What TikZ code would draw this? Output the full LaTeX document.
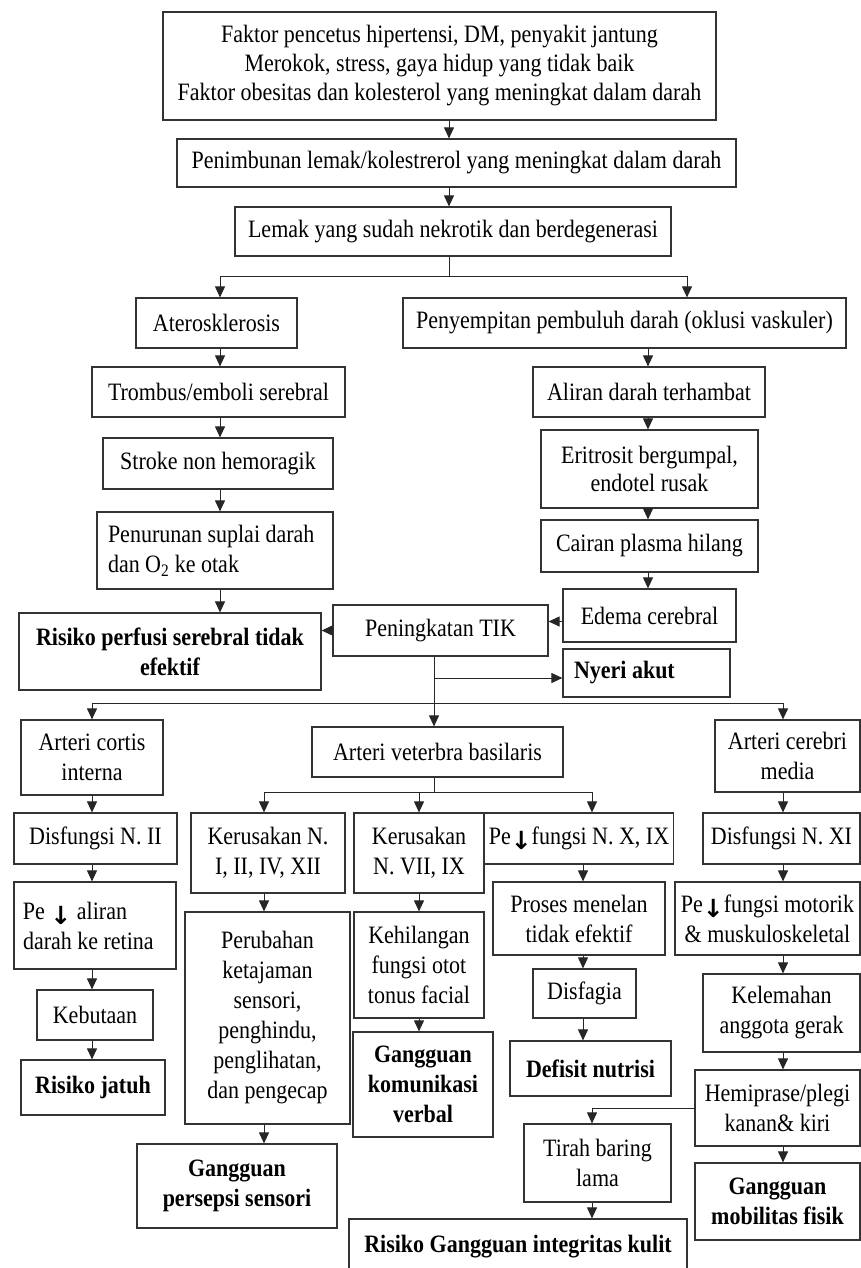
\documentclass[tikz,border=0pt]{standalone}
\usepackage{fontspec}
\setmainfont{Liberation Serif}[FakeStretch=0.88]
\newfontfamily\arrowfont{DejaVu Sans}
\usetikzlibrary{arrows.meta}
\newcommand{\pdown}{\raisebox{-0.2em}{\arrowfont\bfseries ↓}}

\begin{document}
\begin{tikzpicture}[x=1pt, y=-1pt,
    font=\fontsize{25}{30}\selectfont,
    box/.style={draw=black!80, line width=1.2pt, align=center, inner sep=4pt},
    bbox/.style={box, font=\fontsize{25}{30}\selectfont\bfseries},
    arr/.style={draw=black!85, line width=1pt, -{Triangle[length=11pt,width=10pt]}},
    ln/.style={draw=black!85, line width=1pt}]
            \useasboundingbox (0,0) rectangle (861,1268);

            \node[box, minimum width=553, minimum height=108, font=\fontsize{25}{29}\selectfont] (faktor) at (439.5,66) {Faktor pencetus hipertensi, DM, penyakit jantung\\Merokok, stress, gaya hidup yang tidak baik\\Faktor obesitas dan kolesterol yang meningkat dalam darah};
            \node[box, minimum width=559, minimum height=48] (timbun) at (456.5,163) {Penimbunan lemak/kolestrerol yang meningkat dalam darah};
            \node[box, minimum width=436, minimum height=49] (lemak) at (453,231.5) {Lemak yang sudah nekrotik dan berdegenerasi};

            \node[box, minimum width=161, minimum height=50] (ateros) at (216.5,323) {Aterosklerosis};
            \node[box, minimum width=443, minimum height=50] (sempit) at (624.5,323) {Penyempitan pembuluh darah (oklusi vaskuler)};
            \node[box, minimum width=253, minimum height=50] (trombus) at (218.5,392) {Trombus/emboli serebral};
            \node[box, minimum width=232, minimum height=50] (aliran) at (649,392) {Aliran darah terhambat};
            \node[box, minimum width=230, minimum height=51] (stroke) at (218,463.5) {Stroke non hemoragik};
            \node[box, minimum width=217, minimum height=78, font=\fontsize{25}{28}\selectfont] (eritro) at (649.5,469) {Eritrosit bergumpal,\\endotel rusak};
            \node[box, minimum width=236, minimum height=77, align=flush left, text width=214, inner xsep=11] (turun) at (215,550.5) {Penurunan suplai darah\\dan O\textsubscript{2} ke otak};
            \node[box, minimum width=217, minimum height=52] (cairan) at (649.5,546) {Cairan plasma hilang};
            \node[box, minimum width=173, minimum height=53] (edema) at (649.5,615.5) {Edema cerebral};
            \node[box, minimum width=215, minimum height=51] (tik) at (440.5,630.5) {Peningkatan TIK};
            \node[bbox, minimum width=302, minimum height=77] (perfusi) at (170,651.5) {Risiko perfusi serebral tidak\\efektif};
            \node[bbox, minimum width=167, minimum height=48, align=flush left, text width=145, inner xsep=11] (nyeri) at (646.5,673) {Nyeri akut};

            \node[box, minimum width=142, minimum height=75] (cortis) at (92,757.5) {Arteri cortis\\interna};
            \node[box, minimum width=251, minimum height=50] (vert) at (437.5,752) {Arteri veterbra basilaris};
            \node[box, minimum width=145, minimum height=72] (cerebri) at (787.5,756) {Arteri cerebri\\media};

            \node[box, minimum width=163, minimum height=51] (dis2) at (95.5,838.5) {Disfungsi N. II};
            \node[box, minimum width=154, minimum height=80] (rusak1) at (268,853) {Kerusakan N.\\I, II, IV, XII};
            \node[box, minimum width=130, minimum height=80] (rusak7) at (419,853) {Kerusakan\\N. VII, IX};
            \node[box, minimum width=172, minimum height=51] (fungsiX) at (579,838.5) {Pe\pdown fungsi N. X, IX};
            \node[box, minimum width=157, minimum height=51] (dis11) at (781.5,838.5) {Disfungsi N. XI};

            \node[box, minimum width=162, minimum height=87, align=flush left, text width=144, inner xsep=9] (aliranret) at (95,925.5) {Pe \pdown{} aliran\\darah ke retina};
            \node[box, minimum width=165, minimum height=212] (perubahan) at (267.5,1018) {Perubahan\\ketajaman\\sensori,\\penghindu,\\penglihatan,\\dan pengecap};
            \node[box, minimum width=130, minimum height=106] (hilang) at (419,965) {Kehilangan\\fungsi otot\\tonus facial};
            \node[box, minimum width=172, minimum height=73] (menelan) at (579,918.5) {Proses menelan\\tidak efektif};
            \node[box, minimum width=185, minimum height=73] (motorik) at (767.5,918.5) {Pe\pdown fungsi motorik\\\& muskuloskeletal};

            \node[box, minimum width=116, minimum height=50] (buta) at (95,1015) {Kebutaan};
            \node[box, minimum width=103, minimum height=49] (disfagia) at (584.5,993.5) {Disfagia};
            \node[box, minimum width=157, minimum height=78] (lemah) at (781.5,1013) {Kelemahan\\anggota gerak};

            \node[bbox, minimum width=144, minimum height=55] (jatuh) at (93,1087.5) {Risiko jatuh};
            \node[bbox, minimum width=140, minimum height=105] (komunikasi) at (423,1084.5) {Gangguan\\komunikasi\\verbal};
            \node[bbox, minimum width=161, minimum height=55] (nutrisi) at (590.5,1068.5) {Defisit nutrisi};
            \node[box, minimum width=165, minimum height=76] (hemi) at (777.5,1108) {Hemiprase/plegi\\kanan\& kiri};
            \node[box, minimum width=147, minimum height=78] (tirah) at (597.5,1163) {Tirah baring\\lama};
            \node[bbox, minimum width=165, minimum height=77] (mobilitas) at (777.5,1201.5) {Gangguan\\mobilitas fisik};
            \node[bbox, minimum width=200, minimum height=84] (persepsi) at (237,1186) {Gangguan\\persepsi sensori};
            \node[bbox, minimum width=338, minimum height=56] (kulit) at (518,1247) {Risiko Gangguan integritas kulit};

            \coordinate (cM) at (449,0);
            \coordinate (cL) at (220,0);
            \coordinate (cS) at (687,0);
            \coordinate (cR) at (648,0);
            \coordinate (cC) at (92,0);
            \coordinate (cE) at (783,0);
            \coordinate (cK) at (264,0);
            \coordinate (cV) at (419,0);
            \coordinate (cN) at (583,0);
            \coordinate (cB) at (592,0);
            \coordinate (split1) at (449,276);
            \coordinate (split2) at (434,703);
            \coordinate (split3) at (434,792);

            \draw[arr] (faktor.south -| cM) -- (timbun.north -| cM);
            \draw[arr] (timbun.south -| cM) -- (lemak.north -| cM);
            \draw[ln] (lemak.south -| split1) -- (split1);
            \draw[arr] (split1) -| (ateros.north -| cL);
            \draw[arr] (split1) -| (sempit.north -| cS);

            \draw[arr] (ateros.south -| cL) -- (trombus.north -| cL);
            \draw[arr] (trombus.south -| cL) -- (stroke.north -| cL);
            \draw[arr] (stroke.south -| cL) -- (turun.north -| cL);
            \draw[arr] (turun.south -| cL) -- (perfusi.north -| cL);

            \draw[arr] (sempit.south -| cR) -- (aliran.north -| cR);
            \draw[arr] (aliran.south -| cR) -- (eritro.north -| cR);
            \draw[arr] (eritro.south -| cR) -- (cairan.north -| cR);
            \draw[arr] (cairan.south -| cR) -- (edema.north -| cR);
            \draw[arr] ([yshift=-6]edema.west) -- ([yshift=-6]edema.west -| tik.east);
            \draw[arr] (tik.west) -- (tik.west -| perfusi.east);

            \draw[ln] (tik.south -| split2) -- (split2);
            \draw[arr] ([yshift=-5]nyeri.west -| split2) -- ([yshift=-5]nyeri.west);
            \draw[arr] (split2) -| (cortis.north -| cC);
            \draw[arr] (split2) -| (cerebri.north -| cE);
            \draw[arr] (split2) -- (vert.north -| split2);

            \draw[arr] (cortis.south -| cC) -- (dis2.north -| cC);
            \draw[arr] (dis2.south -| cC) -- (aliranret.north -| cC);
            \draw[arr] (aliranret.south -| cC) -- (buta.north -| cC);
            \draw[arr] (buta.south -| cC) -- (jatuh.north -| cC);

            \draw[ln] (vert.south -| split3) -- (split3);
            \draw[arr] (split3) -| (rusak1.north -| cK);
            \draw[arr] (split3) -| (rusak7.north -| cV);
            \draw[arr] (split3) -| (fungsiX.north -| cB);
            \draw[arr] (rusak1.south -| cK) -- (perubahan.north -| cK);
            \draw[arr] (perubahan.south -| cK) -- (persepsi.north -| cK);
            \draw[arr] (rusak7.south -| cV) -- (hilang.north -| cV);
            \draw[arr] (hilang.south -| cV) -- (komunikasi.north -| cV);
            \draw[arr] (fungsiX.south -| cN) -- (menelan.north -| cN);
            \draw[arr] (menelan.south -| cN) -- (disfagia.north -| cN);
            \draw[arr] (disfagia.south -| cN) -- (nutrisi.north -| cN);

            \draw[arr] (cerebri.south -| cE) -- (dis11.north -| cE);
            \draw[arr] (dis11.south -| cE) -- (motorik.north -| cE);
            \draw[arr] (motorik.south -| cE) -- (lemah.north -| cE);
            \draw[arr] (lemah.south -| cE) -- (hemi.north -| cE);
            \draw[arr] (hemi.south -| cE) -- (mobilitas.north -| cE);
            \draw[arr] (hemi.west) -| (tirah.north -| cB);
            \draw[arr] (tirah.south -| cB) -- (kulit.north -| cB);
\end{tikzpicture}
\end{document}
